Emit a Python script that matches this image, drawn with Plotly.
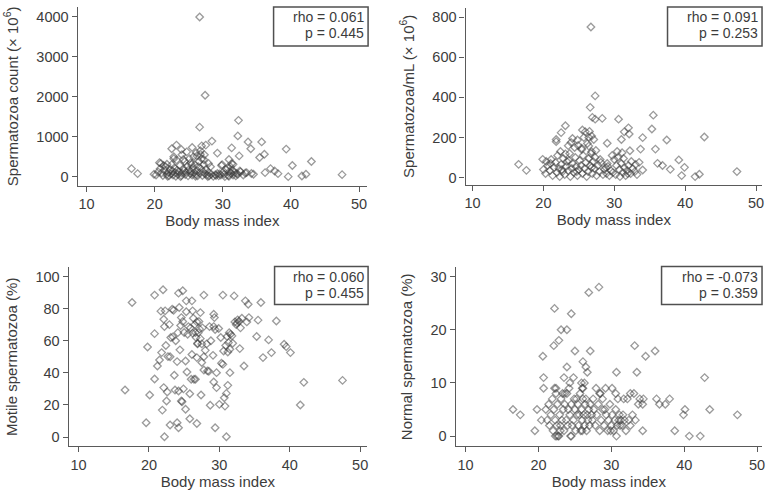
import plotly.graph_objects as go

# ---------------- data ----------------
bmi_count = [26.6, 27.4, 26.6, 32.3, 32.2, 31.3, 28.4, 29.2, 33.7, 34.1, 35.7, 36.1, 35.4, 32.4, 39.3,
             40.2, 43.0, 47.5, 39.6, 41.6, 42.2, 16.6, 17.5, 36.2, 37.0, 37.6, 38.1, 33.5, 34.2, 32.5,
             23.2, 22.5, 23.9, 25.5, 26.9, 27.5, 24.7, 26.2, 26.7, 27.2, 27.9, 20.7, 21.8, 22.8, 24.2,
             25.3, 29.8, 30.9, 31.5, 19.9,
             20.2, 20.5, 20.8, 21.0, 21.2, 21.4, 21.6, 21.8, 22.0, 22.1, 22.3, 22.4, 22.6, 22.7, 22.9,
             23.0, 23.1, 23.3, 23.4, 23.6, 23.7, 23.9, 24.0, 24.2, 24.3, 24.5, 24.6, 24.8, 24.9, 25.0,
             25.2, 25.3, 25.5, 25.6, 25.8, 25.9, 26.0, 26.2, 26.3, 26.4, 26.5, 26.6, 26.8, 26.9, 27.0,
             27.1, 27.2, 27.4, 27.5, 27.7, 27.9, 28.0, 28.3, 28.6, 28.9, 29.2, 29.4, 29.7, 30.0, 30.2,
             30.5, 30.7, 30.8, 31.0, 31.1, 31.2, 31.4, 31.5, 31.7, 31.9, 32.2, 32.6, 33.0, 33.3, 34.5,
             22.5, 23.2, 24.4, 25.1, 25.7, 26.1, 26.7, 27.3, 21.3, 20.9, 22.8, 24.0, 25.4, 28.2, 29.0,
             29.9, 30.3, 31.3, 32.0, 21.9, 23.8, 26.0, 27.8, 29.5, 30.9]
sperm_count = [4000, 2040, 1240, 1410, 1020, 720, 890, 590, 870, 700, 870, 560, 480, 520, 690,
               280, 380, 50, 0, 15, 60, 200, 75, 100, 200, 140, 75, 100, 80, 140,
               790, 700, 680, 730, 770, 790, 620, 520, 560, 430, 330, 350, 310, 450, 430,
               350, 280, 430, 310, 60,
               40, 120, 200, 90, 30, 160, 250, 60, 110, 20, 180, 70, 140, 40, 220,
               100, 10, 160, 60, 120, 280, 30, 90, 200, 150, 50, 110, 260, 20, 170,
               80, 130, 40, 220, 100, 300, 60, 150, 20, 250, 380, 90, 200, 450, 30,
               120, 300, 70, 180, 40, 110, 20, 60, 10, 50, 80, 20, 40, 100, 60,
               180, 220, 30, 130, 250, 80, 160, 40, 110, 20, 60, 120, 40, 90, 60,
               300, 420, 380, 450, 500, 600, 650, 550, 280, 330, 500, 550, 300, 250, 30,
               300, 0, 330, 80, 10, 0, 10, 0, 70, 10]

bmi_conc = [26.7, 27.3, 26.6, 26.9, 27.3, 28.3, 30.6, 35.5, 35.3, 35.8, 33.7, 34.0, 37.4, 42.7, 39.1,
            39.9, 39.5, 41.4, 42.0, 47.3, 16.5, 17.6, 36.1, 36.8, 37.9, 34.0, 33.5, 31.4, 32.0, 32.1,
            31.0, 32.2, 31.1, 29.0, 23.1, 21.8, 21.8, 22.5, 24.1, 23.5, 24.8, 25.5, 25.9, 26.4, 26.8,
            26.4, 25.4, 26.8, 23.1, 19.9, 20.4,
            20.3, 20.6, 20.9, 21.1, 21.3, 21.5, 21.7, 21.9, 22.0, 22.2, 22.3, 22.5, 22.7, 22.8, 23.0,
            23.2, 23.3, 23.5, 23.7, 23.8, 24.0, 24.1, 24.3, 24.5, 24.6, 24.8, 25.0, 25.1, 25.3, 25.5,
            25.6, 25.8, 26.0, 26.1, 26.3, 26.4, 26.6, 26.7, 26.9, 27.0, 27.2, 27.3, 27.5, 27.7, 27.9,
            28.1, 28.4, 28.6, 28.9, 29.1, 29.3, 29.5, 29.8, 30.0, 30.2, 30.3, 30.5, 30.7, 30.8, 31.0,
            31.2, 31.4, 31.6, 31.8, 32.0, 32.3, 32.6, 32.9, 33.2, 20.0, 21.0, 22.4, 23.6, 24.4, 25.4,
            26.2, 27.4, 28.0, 29.0, 29.7, 30.4, 31.3, 32.4, 33.0, 23.9, 25.7, 26.5, 27.1, 24.9, 22.6,
            24.7, 26.8, 28.8, 31.9]
sperm_conc = [750, 407, 350, 300, 291, 295, 291, 311, 242, 142, 142, 199, 187, 202, 88,
              51, 10, 5, 17, 30, 66, 36, 71, 60, 41, 38, 76, 228, 248, 217,
              190, 134, 124, 171, 258, 190, 179, 224, 195, 159, 187, 237, 229, 200, 207,
              157, 146, 129, 118, 91, 80,
              20, 60, 35, 90, 10, 50, 75, 25, 110, 45, 5, 65, 30, 95, 15,
              55, 80, 35, 120, 5, 45, 70, 25, 100, 55, 10, 40, 85, 60, 20,
              110, 45, 75, 5, 30, 95, 60, 120, 20, 80, 45, 100, 10, 60, 30,
              75, 15, 40, 20, 55, 10, 35, 25, 90, 15, 60, 100, 40, 5, 70,
              25, 50, 10, 35, 60, 20, 45, 30, 15, 40, 70, 130, 85, 150, 140,
              170, 135, 90, 70, 110, 130, 95, 80, 65, 175, 200, 230, 190, 160, 40,
              30, 50, 50, 20]

bmi_motile = [16.6, 17.6, 19.6, 19.8, 20.1, 20.8, 20.8, 20.8, 22.0, 21.7, 21.9, 22.2, 21.8, 21.5, 21.2,
              22.1, 22.5, 22.6, 22.7, 22.2, 22.1, 22.3, 23.3, 23.4, 23.6, 23.0, 24.0, 24.2, 23.7, 24.2,
              24.4, 24.2, 24.8, 25.3, 24.3, 24.6, 24.5, 25.0, 25.2, 25.2, 24.6, 25.8, 25.8, 26.0, 25.4,
              26.1, 26.1, 25.6, 26.8, 26.6, 26.2, 26.9, 27.3, 27.2, 27.3, 26.2, 26.8, 27.5, 27.8, 27.4,
              26.8, 27.8, 28.2, 28.3, 28.6, 29.2, 29.2, 29.3, 29.1, 29.2, 29.6, 29.6, 28.7, 29.4, 29.9,
              30.5, 30.0, 30.5, 30.6, 31.0, 30.7, 31.0, 31.2, 30.8, 31.5, 31.5, 31.3, 31.1, 31.6, 31.9,
              32.1, 32.2, 32.6, 32.9, 33.5, 33.7, 34.1, 34.2, 33.9, 35.3, 35.5, 35.9, 36.2, 37.0, 37.4,
              38.1, 39.2, 39.5, 40.1, 41.5, 42.0, 47.5,
              22.9, 23.1, 23.5, 23.8, 24.1, 24.8, 25.5, 25.9, 26.3, 26.5, 26.7, 27.0, 27.1, 27.5, 27.6,
              28.0, 28.8, 29.4, 30.2, 30.9, 31.2, 31.8, 32.4, 32.8, 33.2, 22.4, 23.0, 24.0, 26.4, 26.6,
              24.7, 24.9, 27.8, 28.5, 25.3, 26.9, 30.3, 31.4, 32.5, 33.0]
motile_pct = [29.3, 83.8, 8.9, 56.1, 26.2, 36.2, 64.4, 88.4, 91.7, 78.4, 16.8, 0.2, 52.6, 48.0, 44.3,
              30.8, 22.5, 28.1, 50.1, 68.8, 73.4, 78.6, 79.6, 62.4, 38.5, 7.5, 8.9, 5.8, 29.3, 28.7,
              54.3, 89.6, 91.1, 84.8, 80.7, 74.4, 69.5, 65.1, 47.4, 17.3, 22.5, 11.4, 27.0, 36.0, 40.5,
              51.4, 84.8, 68.8, 71.7, 65.1, 64.7, 58.4, 61.3, 67.2, 77.5, 78.6, 49.5, 46.4, 41.8, 26.2,
              8.5, 88.4, 58.0, 41.2, 68.8, 68.8, 76.5, 74.4, 50.9, 34.3, 30.8, 40.1, 19.8, 5.8, 67.6,
              88.4, 20.4, 45.3, 53.6, 0.2, 24.5, 27.2, 32.2, 19.3, 40.1, 54.7, 58.8, 62.6, 64.0, 58.4,
              87.9, 71.7, 73.0, 55.1, 44.3, 84.8, 82.7, 74.4, 71.7, 62.6, 72.8, 83.8, 49.5, 60.5, 52.6,
              72.3, 57.8, 56.3, 52.6, 20.0, 34.1, 35.3,
              70, 62, 79, 60, 65, 72, 64, 68, 74, 70, 62, 65, 72, 58, 68,
              54, 60, 67, 62, 57, 53, 63, 70, 72, 74, 57, 50, 47, 36, 36,
              22, 30, 50, 41, 78, 58, 46, 65, 71, 68]

bmi_normal = [16.5, 17.5, 19.5, 19.8, 20.6, 20.7, 20.7, 20.4, 22.2, 22.1, 22.8, 23.1, 23.9, 24.5, 25.0,
              23.9, 23.5, 24.8, 24.3, 23.6, 22.4, 26.1, 26.5, 26.7, 27.1, 26.9, 28.3, 25.9, 26.1, 27.9,
              28.4, 28.8, 30.1, 30.7, 30.6, 33.2, 33.5, 34.7, 36.0, 33.1, 34.4, 34.3, 36.2, 36.6, 37.4,
              38.0, 38.7, 34.3, 39.9, 40.1, 40.7, 42.2, 42.8, 43.5, 47.3, 30.7, 24.5, 22.3, 22.5,
              21.0, 21.2, 21.4, 21.5, 21.7, 21.9, 22.0, 22.1, 22.3, 22.4, 22.5, 22.6, 22.8, 22.9, 23.0,
              23.1, 23.2, 23.4, 23.5, 23.6, 23.8, 23.9, 24.0, 24.1, 24.3, 24.4, 24.5, 24.6, 24.8, 24.9,
              25.0, 25.1, 25.3, 25.4, 25.5, 25.6, 25.7, 25.8, 25.9, 26.0, 26.1, 26.2, 26.3, 26.4, 26.5,
              26.6, 26.7, 26.8, 26.9, 27.0, 27.1, 27.3, 27.4, 27.6, 27.8, 28.0, 28.2, 28.4, 28.6, 28.8,
              29.0, 29.1, 29.3, 29.5, 29.6, 29.8, 30.0, 30.1, 30.3, 30.5, 30.6, 30.8, 30.9, 31.0, 31.1,
              31.2, 31.3, 31.5, 31.6, 31.8, 32.0, 32.2, 32.4, 32.6, 32.9, 33.3, 33.7, 33.9, 22.2, 23.3,
              24.2, 25.2, 26.0, 26.3, 27.5, 28.5, 29.2, 31.7, 32.6, 22.7, 23.0, 26.0, 29.9]
normal_pct = [5, 4, 1, 5, 15, 11, 9, 3, 24, 17, 18, 20, 20, 23, 16,
              13, 11, 11, 10, 8, 9, 14, 13, 12, 16, 27, 28, 10, 9, 9,
              8, 7, 9, 12, 8, 17, 12, 15, 16, 8, 7, 6, 7, 6, 6,
              7, 1, 1, 4, 5, 0, 0, 11, 5, 4, 0, 0, 0, 0,
              5, 3, 6, 2, 4, 7, 1, 5, 3, 8, 2, 6, 0, 4, 2,
              7, 3, 5, 1, 6, 3, 8, 2, 5, 4, 0, 6, 2, 3, 7,
              5, 1, 4, 6, 2, 4, 8, 1, 5, 3, 7, 4, 2, 6, 7,
              1, 4, 3, 5, 2, 6, 4, 3, 5, 2, 4, 6, 1, 3, 5,
              2, 5, 4, 1, 3, 6, 2, 4, 1, 3, 5, 2, 7, 3, 4,
              2, 3, 2, 4, 3, 1, 7, 3, 2, 4, 3, 6, 7, 9, 8,
              9, 7, 9, 10, 7, 8, 9, 7, 8, 0, 1, 1, 1]

panel_bmi = [bmi_count, bmi_conc, bmi_motile, bmi_normal]
panel_vals = [sperm_count, sperm_conc, motile_pct, normal_pct]
y_titles = ["Spermatozoa count (× 10<sup>6</sup>)", "Spermatozoa/mL (× 10<sup>6</sup>)",
            "Motile spermatozoa (%)", "Normal spermatozoa (%)"]
x_title = "Body mass index"
rho_vals = ["0.061", "0.091", "0.060", "-0.073"]
p_vals = ["0.445", "0.253", "0.455", "0.359"]
x_ticks = [10, 20, 30, 40, 50]
y_ticks = [[0, 1000, 2000, 3000, 4000], [0, 200, 400, 600, 800],
           [0, 20, 40, 60, 80, 100], [0, 10, 20, 30]]

# ---------------- layout (pixel geometry) ----------------
W, H = 771, 496
# plot boxes in pixels: left, right, top, bottom
boxes = [(77, 368, 7, 186), (467, 765, 8, 185), (68, 368, 268, 447), (457, 765, 268, 447)]
x_ranges = [[8.69, 51.17], [9.02, 50.84], [8.59, 50.99], [8.63, 50.68]]
y_ranges = [[-225, 4250], [-35, 845], [-5.6, 105.6], [-1.875, 31.7]]
# stat boxes: left, right, top, bottom
stat_boxes = [(274, 369, 7, 46), (670, 765, 7, 46), (275, 369, 267, 305), (664, 765, 267, 305)]

TXT = "#3c3c3c"
AX = "#5a5a5a"
FONT = "Liberation Sans, Arial, sans-serif"

def px(x):
    return x / W

def py(y):
    return 1 - y / H

fig = go.Figure()
layout = dict(
    width=W, height=H, margin=dict(l=0, r=0, t=0, b=0),
    paper_bgcolor="white", plot_bgcolor="white", showlegend=False,
    font=dict(family=FONT, color=TXT, size=14),
)
shapes = []
annotations = []
for i in range(4):
    n = "" if i == 0 else str(i + 1)
    L, R, T, B = boxes[i]
    fig.add_trace(go.Scatter(
        x=panel_bmi[i], y=panel_vals[i], mode="markers",
        xaxis="x" + n, yaxis="y" + n,
        marker=dict(symbol="diamond-open", size=5.8,
                    color="rgba(55,55,55,0.5)", line=dict(width=1.3)),
        hoverinfo="x+y",
    ))
    layout["xaxis" + n] = dict(
        domain=[px(L), px(R)], anchor="y" + n, range=x_ranges[i],
        tickvals=x_ticks, ticks="outside", ticklen=5, tickcolor=AX, tickwidth=1,
        showline=True, linecolor=AX, linewidth=1.2, showgrid=False, zeroline=False,
        tickfont=dict(size=14.5, color=TXT),
        title=dict(text=x_title, font=dict(size=15, color=TXT), standoff=4),
    )
    layout["yaxis" + n] = dict(
        domain=[py(B), py(T)], anchor="x" + n, range=y_ranges[i],
        tickvals=y_ticks[i], ticks="outside", ticklen=5, tickcolor=AX, tickwidth=1,
        showline=True, linecolor=AX, linewidth=1.2, showgrid=False, zeroline=False,
        tickfont=dict(size=14.5, color=TXT),
        title=dict(text=y_titles[i], font=dict(size=15, color=TXT), standoff=14),
    )
    sL, sR, sT, sB = stat_boxes[i]
    shapes.append(dict(type="rect", xref="paper", yref="paper",
                       x0=px(sL), x1=px(sR), y0=py(sB), y1=py(sT),
                       line=dict(color="#505050", width=1.5), fillcolor="rgba(0,0,0,0)"))
    annotations.append(dict(xref="paper", yref="paper", x=px(sR - 2), y=py(sT + 10.5),
                            xanchor="right", yanchor="middle", showarrow=False,
                            text="rho = " + rho_vals[i], font=dict(size=14, color=TXT)))
    annotations.append(dict(xref="paper", yref="paper", x=px(sR - 2), y=py(sT + 26.5),
                            xanchor="right", yanchor="middle", showarrow=False,
                            text="p = " + p_vals[i], font=dict(size=14, color=TXT)))

layout["shapes"] = shapes
layout["annotations"] = annotations
fig.update_layout(**layout)
fig.write_html("out.html", config={"displayModeBar": False},
               post_script="document.body.style.margin='0px';document.body.style.overflow='hidden';")
